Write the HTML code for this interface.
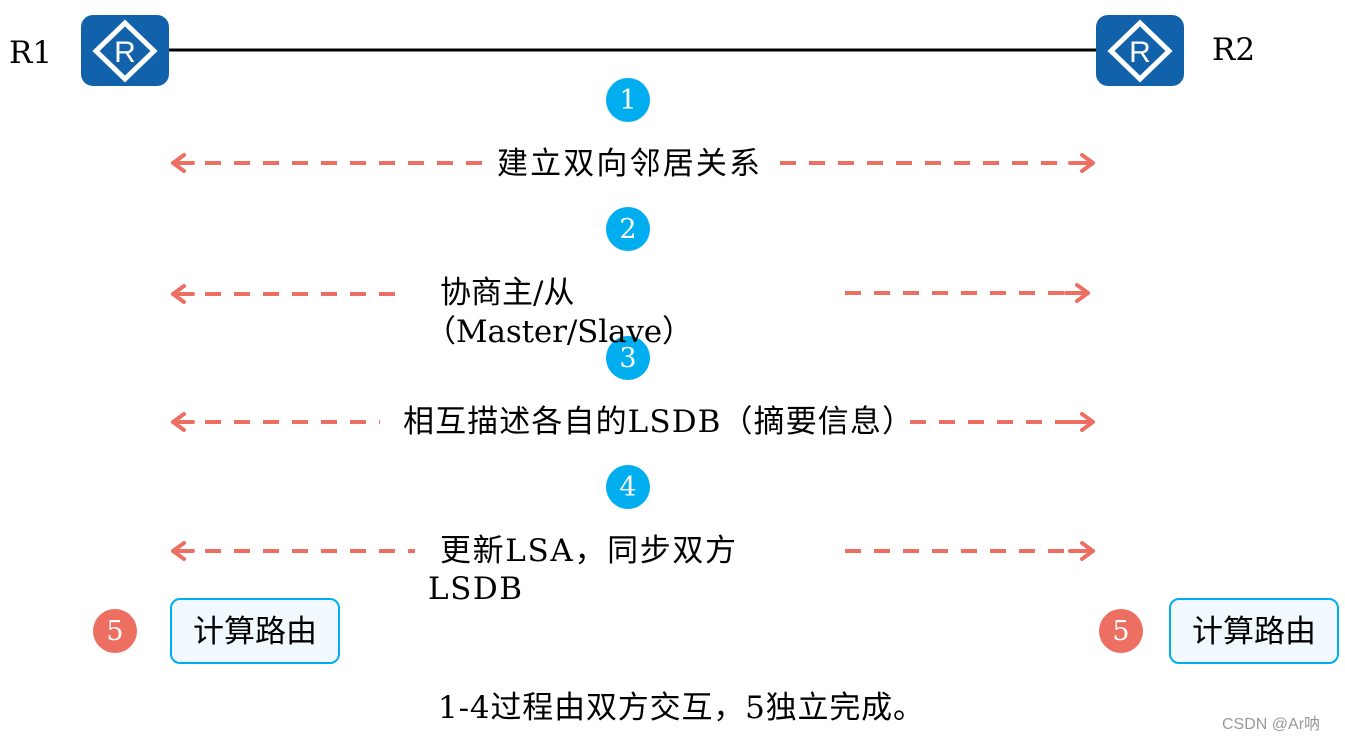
<!DOCTYPE html>
<html><head><meta charset="utf-8"><style>
body{margin:0;background:#fff;}
svg{display:block}
.t{font-family:"DejaVu Serif","Noto Sans CJK SC",serif;font-size:31px;fill:#000}
.c{font-family:"DejaVu Serif",serif;font-size:27px;fill:#fff;text-anchor:middle}
.d{stroke:#ec6f61;stroke-width:4;fill:none;stroke-dasharray:16 13}
.a{stroke:#ec6f61;stroke-width:4;fill:none;stroke-linecap:round;stroke-linejoin:round}
</style></head><body>
<svg width="1345" height="742" viewBox="0 0 1345 742" xmlns="http://www.w3.org/2000/svg">
<line x1="165" y1="50" x2="1100" y2="50" stroke="#000" stroke-width="3"/>
<g>
<rect x="81" y="15" width="88" height="71" rx="12" fill="#1162aa"/>
<polygon points="125,23 154,51 125,79 96,51" fill="none" stroke="#fff" stroke-width="5"/>
<text x="125" y="62" font-family="Liberation Sans,sans-serif" font-size="30" fill="#fff" text-anchor="middle">R</text>
<rect x="1096" y="15" width="88" height="71" rx="12" fill="#1162aa"/>
<polygon points="1140,23 1169,51 1140,79 1111,51" fill="none" stroke="#fff" stroke-width="5"/>
<text x="1140" y="62" font-family="Liberation Sans,sans-serif" font-size="30" fill="#fff" text-anchor="middle">R</text>
</g>
<text class="t" x="9" y="63">R1</text>
<text class="t" x="1212" y="60">R2</text>

<g>
<path class="a" d="M184,155 L173,163 L184,171 M173,163 L193,163"/>
<line class="d" x1="205" y1="163" x2="485" y2="163"/>
<line class="d" x1="780" y1="163" x2="1080" y2="163"/>
<path class="a" d="M1082,155 L1093,163 L1082,171 M1070,163 L1093,163"/>

<path class="a" d="M184,286 L173,294 L184,302 M173,294 L193,294"/>
<line class="d" x1="205" y1="294" x2="402" y2="294"/>
<line class="d" x1="845" y1="293" x2="1075" y2="293"/>
<path class="a" d="M1077,285 L1088,293 L1077,301 M1066,293 L1088,293"/>

<path class="a" d="M184,414 L173,422 L184,430 M173,422 L193,422"/>
<line class="d" x1="205" y1="422" x2="380" y2="422"/>
<line class="d" x1="910" y1="422" x2="1080" y2="422"/>
<path class="a" d="M1082,414 L1093,422 L1082,430 M1070,422 L1093,422"/>

<path class="a" d="M184,543 L173,551 L184,559 M173,551 L193,551"/>
<line class="d" x1="205" y1="551" x2="415" y2="551"/>
<line class="d" x1="845" y1="551" x2="1080" y2="551"/>
<path class="a" d="M1082,543 L1093,551 L1082,559 M1070,551 L1093,551"/>
</g>

<circle cx="628" cy="100" r="22" fill="#00aeef"/><text class="c" x="628" y="109">1</text>
<circle cx="628" cy="229" r="22" fill="#00aeef"/><text class="c" x="628" y="238">2</text>
<circle cx="628" cy="358" r="22" fill="#00aeef"/><text class="c" x="628" y="367">3</text>
<circle cx="628" cy="487" r="22" fill="#00aeef"/><text class="c" x="628" y="496">4</text>
<circle cx="115" cy="631" r="22" fill="#ec6f61"/><text class="c" x="115" y="640">5</text>
<circle cx="1121" cy="631" r="22" fill="#ec6f61"/><text class="c" x="1121" y="640">5</text>

<text class="t" x="497" y="174" textLength="263">建立双向邻居关系</text>
<text class="t" x="440" y="303">协商主/从</text>
<text class="t" x="425" y="342" textLength="268">（Master/Slave）</text>
<text class="t" x="403" y="432" textLength="510">相互描述各自的LSDB（摘要信息）</text>
<text class="t" x="440" y="561" textLength="296">更新LSA，同步双方</text>
<text class="t" x="428" y="599" textLength="94">LSDB</text>

<rect x="171" y="599" width="168" height="64" rx="9" fill="#f2f9fe" stroke="#00aeef" stroke-width="2"/>
<text class="t" x="255" y="642" text-anchor="middle">计算路由</text>
<rect x="1170" y="599" width="168" height="64" rx="9" fill="#f2f9fe" stroke="#00aeef" stroke-width="2"/>
<text class="t" x="1254" y="642" text-anchor="middle">计算路由</text>

<text class="t" x="438" y="718" textLength="486">1-4过程由双方交互，5独立完成。</text>
<text x="1222" y="729" font-family="Liberation Sans,Noto Sans CJK SC,sans-serif" font-size="16" fill="#999">CSDN @Ar呐</text>
</svg>
</body></html>
